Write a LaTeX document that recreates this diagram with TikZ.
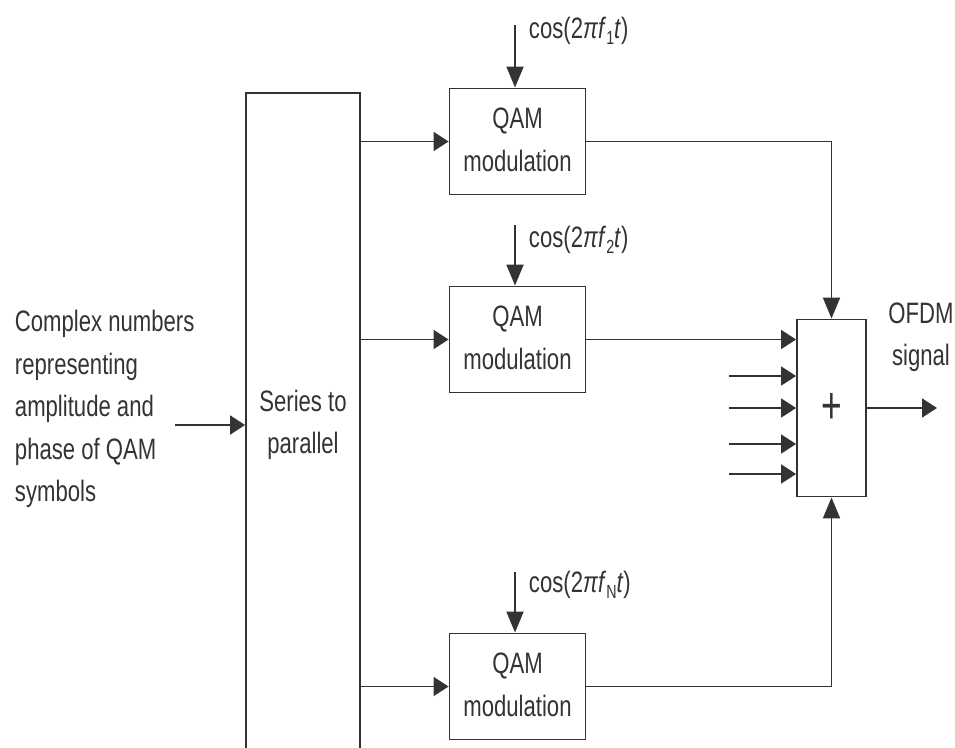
\documentclass[tikz,border=0pt]{standalone}
\usepackage{fontspec}
\usepackage{graphicx}
\setmainfont{Liberation Sans}
\usetikzlibrary{arrows.meta}
% condensed text block, several lines
\newcommand{\narc}[1]{\scalebox{0.75}[1]{\begin{tabular}{@{}c@{}}#1\end{tabular}}}
\newcommand{\narl}[1]{\scalebox{0.75}[1]{\begin{tabular}{@{}l@{}}#1\end{tabular}}}
\newcommand{\carrier}[1]{\scalebox{0.75}[1]{cos(2\textit{π}\textit{f}\raisebox{-0.35ex}{\fontsize{19}{19}\selectfont #1}\textit{t})}}
\definecolor{ink}{gray}{0.2}
\begin{document}
\begin{tikzpicture}[x=1pt,y=-1pt,
  line width=1.9pt, draw=ink, color=ink,
  every node/.style={font=\fontsize{29.5}{42.5}\selectfont, inner sep=0pt, text=ink},
  blk/.style={draw=ink, rectangle, minimum width=136pt, minimum height=106pt},
  harrow/.style={-{Triangle[length=15pt,width=19pt]}},
  varrow/.style={-{Triangle[length=21pt,width=17pt]}},
]
\useasboundingbox (0,0) rectangle (955,747);

% series-to-parallel converter, running past the lower edge
\node[draw=ink, rectangle, minimum width=114pt, minimum height=670pt, anchor=north] (s2p) at (303,92) {};
\node (s2ptxt) at (303,424) {\narc{Series to\\parallel}};

% input description
\node[anchor=west] (intxt) at (14,408) {\narl{Complex numbers\\representing\\amplitude and\\phase of QAM\\symbols}};
\coordinate (inp) at (175,425);
\draw[harrow] (inp) -- (s2p.west |- inp);

% modulators
\node[blk] (qam1) at (517.5,141.5) {\narc{QAM\\modulation}};
\node[blk] (qam2) at (517.5,339.5) {\narc{QAM\\modulation}};
\node[blk] (qam3) at (517.5,686.5) {\narc{QAM\\modulation}};

\draw[harrow] (s2p.east |- qam1) -- (qam1.west);
\draw[harrow] (s2p.east |- qam2) -- (qam2.west);
\draw[harrow] (s2p.east |- qam3) -- (qam3.west);

% carriers
\coordinate (c1) at (515,25);
\coordinate (c2) at (515,225);
\coordinate (c3) at (515,572);
\draw[varrow] (c1) -- (c1 |- qam1.north);
\draw[varrow] (c2) -- (c2 |- qam2.north);
\draw[varrow] (c3) -- (c3 |- qam3.north);
\node[anchor=west] (l1) at (528,31) {\carrier{1}};
\node[anchor=west] (l2) at (528,240) {\carrier{2}};
\node[anchor=west] (l3) at (528,585) {\carrier{N}};

% summing block
\node[draw=ink, rectangle, minimum width=69pt, minimum height=177pt] (sum) at (831.5,408) {};
\node (plus) at (831.5,408) {\scalebox{0.68}[1]{\fontsize{52}{52}\selectfont +}};

\draw[varrow] (qam1.east) -| (sum.north);
\draw[harrow] (qam2.east) -- (sum.west |- qam2);
\draw[varrow] (qam3.east) -| (sum.south);

\coordinate (a1) at (729,376);
\coordinate (a2) at (729,408);
\coordinate (a3) at (729,444);
\coordinate (a4) at (729,474);
\foreach \a in {a1,a2,a3,a4} \draw[harrow] (\a) -- (sum.west |- \a);

% output
\coordinate (out) at (937,408);
\draw[harrow] (sum.east) -- (out);
\node (outtxt) at (921,336) {\narc{OFDM\\signal}};
\end{tikzpicture}
\end{document}
